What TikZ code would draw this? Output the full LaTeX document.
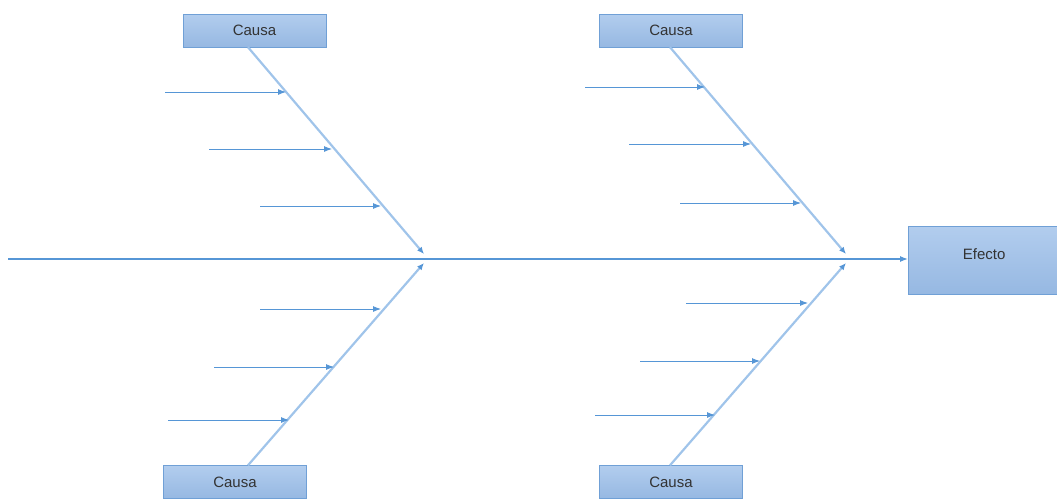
\documentclass[tikz,border=0pt]{standalone}
\usepackage{fontspec}
\setmainfont{Liberation Sans}
\usetikzlibrary{positioning,arrows.meta}

\definecolor{lineblue}{RGB}{86,150,214}
\definecolor{boneblue}{RGB}{160,196,234}
\definecolor{boxtop}{RGB}{178,205,238}
\definecolor{boxbot}{RGB}{150,184,226}
\definecolor{boxedge}{RGB}{112,160,214}

\begin{document}
\begin{tikzpicture}[
    x=1pt, y=-1pt,
    box/.style = {draw=boxedge, top color=boxtop, bottom color=boxbot, minimum width=143pt, minimum height=33pt, inner sep=0pt, font=\fontsize{15}{17}\selectfont, text=black!80},
    bone/.style = {draw=boneblue, line width=2.2pt, -{Latex[length=7pt,width=6pt,color=lineblue]}},
    rib/.style = {draw=lineblue, line width=0.9pt, -{Latex[length=8pt,width=6pt]}},
    spine/.style = {draw=lineblue, line width=1.2pt}
]
\useasboundingbox (0,0) rectangle (1057,498);

% causes and effect
\node (c1) [box] at (254.5,30.5) {Causa};
\node (c2) [box] at (235,482) {Causa};
\node (c3) [box] at (671,30.5) {Causa};
\node (c4) [box] at (671,482) {Causa};
\node (efecto) [box, minimum width=152pt, minimum height=68pt, text depth=12pt, anchor=west] at (908,260) {Efecto};

% spine
\coordinate (tail) at (8,259);
\coordinate (j1) at (424,259);
\coordinate (j2) at (846,259);
\draw[spine, -{Latex[length=8pt,width=6pt]}] (tail) -- (j1) -- (j2) -- (efecto.west |- j2);

% bones
\draw[bone] (c1.south -| 248,0) -- (424,254);
\draw[bone] (c2.north -| 248,0) -- (424,263);
\draw[bone] (c3.south -| 670,0) -- (846,254);
\draw[bone] (c4.north -| 670,0) -- (846,263);

% ribs, left fish bone
\coordinate (a1) at (165,92);  \coordinate (b1) at (286,92);
\coordinate (a2) at (209,149); \coordinate (b2) at (332,149);
\coordinate (a3) at (260,206); \coordinate (b3) at (381,206);
\coordinate (a4) at (260,309); \coordinate (b4) at (381,309);
\coordinate (a5) at (214,367); \coordinate (b5) at (334,367);
\coordinate (a6) at (168,420); \coordinate (b6) at (289,420);
% ribs, right fish bone
\coordinate (a7) at (585,87);   \coordinate (b7) at (705,87);
\coordinate (a8) at (629,144);  \coordinate (b8) at (751,144);
\coordinate (a9) at (680,203);  \coordinate (b9) at (801,203);
\coordinate (a10) at (686,303); \coordinate (b10) at (808,303);
\coordinate (a11) at (640,361); \coordinate (b11) at (760,361);
\coordinate (a12) at (595,415); \coordinate (b12) at (715,415);

\draw[rib] (a1) -- (b1);
\draw[rib] (a2) -- (b2);
\draw[rib] (a3) -- (b3);
\draw[rib] (a4) -- (b4);
\draw[rib] (a5) -- (b5);
\draw[rib] (a6) -- (b6);
\draw[rib] (a7) -- (b7);
\draw[rib] (a8) -- (b8);
\draw[rib] (a9) -- (b9);
\draw[rib] (a10) -- (b10);
\draw[rib] (a11) -- (b11);
\draw[rib] (a12) -- (b12);
\end{tikzpicture}
\end{document}
